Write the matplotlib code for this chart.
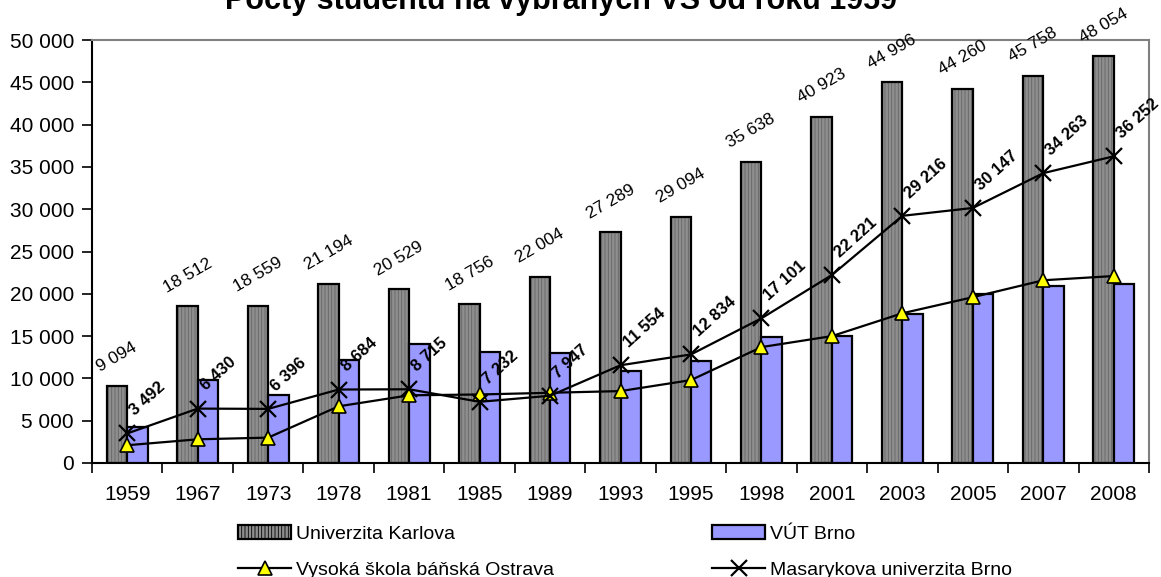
import numpy as np
import matplotlib
matplotlib.use("Agg")
import matplotlib.pyplot as plt
from matplotlib.patches import Patch
from matplotlib.lines import Line2D

# data
years = ["1959", "1967", "1973", "1978", "1981", "1985", "1989", "1993",
         "1995", "1998", "2001", "2003", "2005", "2007", "2008"]
karlova = [9094, 18512, 18559, 21194, 20529, 18756, 22004, 27289,
           29094, 35638, 40923, 44996, 44260, 45758, 48054]
vut = [4300, 9800, 8000, 12200, 14100, 13100, 13000, 10900,
       12100, 14900, 15000, 17600, 20000, 20900, 21100]
vsb = [2100, 2800, 3000, 6700, 8000, 8100, 8300, 8500,
       9800, 13700, 15000, 17700, 19600, 21600, 22100]
masaryk = [3492, 6430, 6396, 8684, 8715, 7232, 7947, 11554,
           12834, 17101, 22221, 29216, 30147, 34263, 36252]

plt.rcParams['font.family'] = ['Liberation Sans', 'DejaVu Sans']
plt.rcParams['hatch.linewidth'] = 0.6


def fmt(v):
    return f"{v:,}".replace(",", " ")


fig = plt.figure(figsize=(11.61, 5.77), dpi=100)
ax = fig.add_axes([92 / 1161, 1 - 463 / 577, 1057 / 1161, 423 / 577])

x = np.arange(len(years))
w = 0.29

# gray bars: hatched fill first, then black outline
ax.bar(x, karlova, width=-w, align='edge', color='#8e8e8e',
       edgecolor='#666666', hatch='|||||', linewidth=0, zorder=2)
ax.bar(x, karlova, width=-w, align='edge', fill=False,
       edgecolor='black', linewidth=1.6, zorder=3)
ax.bar(x, vut, width=w, align='edge', color='#9999ff',
       edgecolor='black', linewidth=1.6, zorder=3)

ax.plot(x, vsb, color='black', linewidth=1.6, marker='^', markersize=10,
        markerfacecolor='#ffff00', markeredgecolor='black',
        markeredgewidth=1.2, zorder=5)
ax.plot(x, masaryk, color='black', linewidth=1.6, marker='x',
        markersize=11, markeredgewidth=1.6, zorder=5)

for xi, v in zip(x, karlova):
    ax.annotate(fmt(v), (xi - w / 2, v), xytext=(0, 11),
                textcoords='offset pixels', ha='center', va='bottom',
                rotation=30, fontsize=12.5, zorder=6)
for xi, v in zip(x, masaryk):
    ax.annotate(fmt(v), (xi, v), xytext=(0, 15),
                textcoords='offset pixels', ha='left', va='bottom',
                rotation=42, fontsize=12, fontweight='bold', zorder=6,
                annotation_clip=False)

ax.set_xlim(-0.5, len(years) - 0.5)
ax.set_ylim(0, 50000)
ax.set_yticks(np.arange(0, 50001, 5000))
ax.set_yticklabels([fmt(v) for v in range(0, 50001, 5000)], fontsize=15)

ax.set_xticks(np.arange(-0.5, len(years), 1.0))
ax.set_xticklabels([])
ax.set_xticks(x, minor=True)
ax.set_xticklabels(years, minor=True, fontsize=15)
ax.tick_params(axis='x', which='major', length=7, width=1.2, direction='out')
ax.tick_params(axis='x', which='minor', length=0, pad=16)
ax.tick_params(axis='y', length=7, width=1.2, direction='out', pad=6)

for side in ['top', 'right']:
    ax.spines[side].set_color('#808080')
    ax.spines[side].set_linewidth(1.5)
for side in ['left', 'bottom']:
    ax.spines[side].set_color('black')
    ax.spines[side].set_linewidth(1.5)

# the title sits partly above the top edge, as in the source image
fig.text(561 / 1161, 1 - 9 / 577, "Počty studentů na vybraných VŠ od roku 1959",
         ha='center', va='baseline', fontsize=22, fontweight='bold')

handles = [
    Patch(facecolor='#8e8e8e', edgecolor='black', hatch='|||||', linewidth=1.6),
    Line2D([], [], color='black', linewidth=1.6, marker='^', markersize=10,
           markerfacecolor='#ffff00', markeredgecolor='black',
           markeredgewidth=1.2),
    Patch(facecolor='#9999ff', edgecolor='black', linewidth=1.6),
    Line2D([], [], color='black', linewidth=1.6, marker='x', markersize=11,
           markeredgewidth=1.6),
]
labels = ["Univerzita Karlova", "Vysoká škola báňská Ostrava",
          "VÚT Brno", "Masarykova univerzita Brno"]
fig.legend(handles, labels, ncol=2, loc='upper left',
           bbox_to_anchor=(238 / 1161, 1 - 525 / 577), frameon=False,
           fontsize=14, handlelength=2.75, handleheight=0.7,
           handletextpad=0.25, columnspacing=8.1, labelspacing=0.95,
           borderpad=0, borderaxespad=0)

fig.savefig("out.png", dpi=100)
